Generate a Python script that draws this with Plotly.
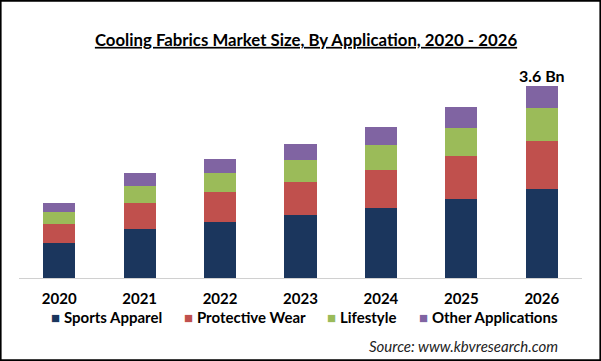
import plotly.graph_objects as go

years = ["2020", "2021", "2022", "2023", "2024", "2025", "2026"]
sports_apparel = [0.66, 0.92, 1.05, 1.18, 1.31, 1.48, 1.67]
protective_wear = [0.36, 0.49, 0.56, 0.62, 0.71, 0.81, 0.90]
lifestyle = [0.21, 0.32, 0.36, 0.41, 0.47, 0.53, 0.62]
other_applications = [0.17, 0.23, 0.26, 0.30, 0.34, 0.38, 0.41]
series_names = ["Sports Apparel", "Protective Wear", "Lifestyle", "Other Applications"]
colors = ["#1B365D", "#C0504D", "#9BBB59", "#8064A2"]
total_label = "3.6 Bn"

W, H = 601, 361
PLOT_L, PLOT_R, PLOT_T, PLOT_B = 19, 582, 70, 278
FONT = "Lato"

def px_x(px):
    return px / W

def px_y(py):
    return 1 - py / H

fig = go.Figure()
for name, vals, c in zip(series_names,
                         [sports_apparel, protective_wear, lifestyle, other_applications],
                         colors):
    fig.add_trace(go.Bar(x=years, y=vals, name=name, marker=dict(color=c, line=dict(width=0))))

totals = [a + b + c + d for a, b, c, d in zip(sports_apparel, protective_wear, lifestyle, other_applications)]
fig.add_trace(go.Scatter(x=[years[-1]], y=[totals[-1]], mode="text", text=["<b>" + total_label + "</b>"],
                         textposition="top center", hoverinfo="skip",
                         textfont=dict(family=FONT, size=16, color="#000000")))

fig.add_annotation(xref="paper", yref="paper", x=px_x(560), y=px_y(346), xanchor="right", yanchor="middle",
                   text="<i>Source: www.kbvresearch.com</i>", showarrow=False,
                   font=dict(family=FONT, size=15, color="#222222"))

legend_x = [49, 182, 325, 417]
legend_y = 317
for name, c, mx in zip(series_names, colors, legend_x):
    fig.add_annotation(xref="paper", yref="paper", x=px_x(mx), y=px_y(legend_y),
                       xanchor="left", yanchor="middle", showarrow=False,
                       text="<span style='color:%s'>■</span> <b>%s</b>" % (c, name),
                       font=dict(family=FONT, size=15, color="#000000"))

# outer border of the picture
fig.add_shape(type="rect", xref="paper", yref="paper", x0=0.001, x1=0.999, y0=0.002, y1=0.998,
              line=dict(color="#000000", width=2), layer="above")

fig.update_layout(
    width=W, height=H,
    margin=dict(l=0, r=0, t=0, b=0),
    barmode="stack", bargap=0.6,
    plot_bgcolor="white", paper_bgcolor="white",
    title=dict(text="<b>Cooling Fabrics Market Size, By Application, 2020 - 2026</b>",
               x=306 / W, xanchor="center", y=1 - 40 / H, yanchor="middle",
               font=dict(family=FONT, size=16.8, color="#000000", lineposition="under")),
    xaxis=dict(type="category", domain=[px_x(PLOT_L), px_x(PLOT_R)], automargin=False,
               showline=True, linecolor="#D0D0D0", linewidth=1, ticks="", showgrid=False,
               ticklabelstandoff=7,
               tickfont=dict(family=FONT, size=15, color="#000000", weight="bold")),
    yaxis=dict(visible=False, range=[0, 3.9], domain=[px_y(PLOT_B), px_y(PLOT_T)], automargin=False),
    showlegend=False,
)

fig.write_html("out.html", config={"displayModeBar": False},
               post_script="document.body.style.margin='0';")
